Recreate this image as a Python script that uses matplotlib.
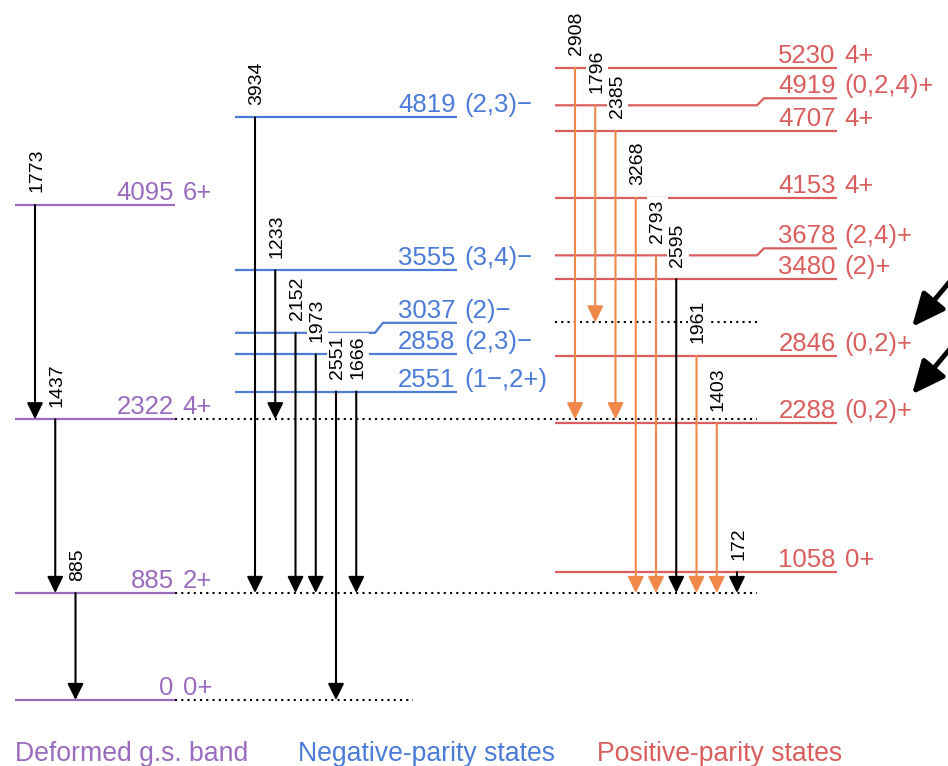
import matplotlib.pyplot as plt

plt.rcParams['font.family'] = ['Liberation Sans', 'DejaVu Sans']

# level energies (keV) and spin/parity labels
gs_levels = [0, 885, 2322, 4095]
gs_spins = ['0+', '2+', '4+', '6+']
neg_levels = [2551, 2858, 3037, 3555, 4819]
neg_spins = ['(1−,2+)', '(2,3)−', '(2)−', '(3,4)−', '(2,3)−']
pos_levels = [1058, 2288, 2846, 3480, 3678, 4153, 4707, 4919, 5230]
pos_spins = ['0+', '(0,2)+', '(0,2)+', '(2)+', '(2,4)+', '4+', '4+', '(0,2,4)+', '4+']

# transitions: initial level, final level, gamma energy
gs_from = [4095, 2322, 885]
gs_to = [2322, 885, 0]
gs_gamma = [1773, 1437, 885]

neg_from = [4819, 3555, 3037, 2858, 2551, 2551]
neg_to = [885, 2322, 885, 885, 0, 885]
neg_gamma = [3934, 1233, 2152, 1973, 2551, 1666]

pos_from = [5230, 4919, 4707, 4153, 3678, 3480, 2846, 2288, 1058]
pos_to = [2322, 3123, 2322, 885, 885, 885, 885, 885, 885]
pos_gamma = [2908, 1796, 2385, 3268, 2793, 2595, 1961, 1403, 172]
pos_black = [2595, 172]  # these are drawn black

# dotted guide levels
guide_levels = [0, 885, 2322, 3123]

#layout (pixels)
PX_PER_KEV = 0.1209
Y0 = 700
W, H = 948, 766

PURPLE = '#9a6cbf'
BLUE = '#4b7cd8'
RED = '#da5e5e'
ORANGE = '#f0884a'

FS_LEVEL = 18.5
FS_TITLE = 19.2
FS_GAMMA = 14


def e_px(ypix):
    """energy that sits at pixel row ypix"""
    return (Y0 - ypix) / PX_PER_KEV


def d_e(px):
    return px / PX_PER_KEV


fig = plt.figure(figsize=(W / 100, H / 100), dpi=100)
ax = fig.add_axes([0, 0, 1, 1])
ax.set_xlim(0, W)
ax.set_ylim(e_px(H), e_px(0))
ax.axis('off')


def draw_levels(levels, spins, color, x0, x1, kink=None, shifts=None):
    shifts = shifts or {}
    for e, s in zip(levels, spins):
        sh = d_e(shifts.get(e, 0))
        if sh:
            ax.plot([x0, kink[0], kink[1], x1], [e, e, e + sh, e + sh],
                    color=color, lw=1.6, zorder=2, solid_capstyle='butt')
        else:
            ax.plot([x0, x1], [e, e], color=color, lw=1.6, zorder=2,
                    solid_capstyle='butt')
        ax.annotate(str(e), xy=(x1, e + sh), xytext=(-1, 3.6),
                    textcoords='offset points', ha='right', va='baseline',
                    fontsize=FS_LEVEL, color=color)
        ax.annotate(s, xy=(x1, e + sh), xytext=(5.5, 3.6),
                    textcoords='offset points', ha='left', va='baseline',
                    fontsize=FS_LEVEL, color=color)


def draw_gammas(froms, tos, gammas, x_first, colors):
    for i, (a, b, g) in enumerate(zip(froms, tos, gammas)):
        x = x_first + i * 20.25
        c = colors[i]
        ax.annotate('', xy=(x, b), xytext=(x, a),
                    arrowprops=dict(arrowstyle='-|>,head_length=0.55,head_width=0.27',
                                    color=c, lw=1.5, mutation_scale=18,
                                    shrinkA=0, shrinkB=0), zorder=3)
        ax.annotate(str(g), xy=(x, a), xytext=(1.2, 9),
                    textcoords='offset points', rotation=90,
                    ha='center', va='bottom', fontsize=FS_GAMMA, color='black',
                    bbox=dict(fc='white', ec='none', pad=1.5), zorder=4)


#dotted guides
guide_x = {0: (175, 413), 885: (175, 757), 2322: (175, 757), 3123: (555, 760)}
for e in guide_levels:
    ax.plot(guide_x[e], [e, e], color='black', lw=1.5,
            linestyle=(0, (1, 2)), zorder=1)

#level columns
draw_levels(gs_levels, gs_spins, PURPLE, 15, 175)
draw_levels(neg_levels, neg_spins, BLUE, 235, 457, kink=(375, 383), shifts={3037: 10})
draw_levels(pos_levels, pos_spins, RED, 555, 837, kink=(757, 764),
            shifts={4919: 7, 3678: 7})

#transitions
draw_gammas(gs_from, gs_to, gs_gamma, 35, ['black'] * len(gs_gamma))
draw_gammas(neg_from, neg_to, neg_gamma, 255, ['black'] * len(neg_gamma))
draw_gammas(pos_from, pos_to, pos_gamma, 575,
            ['black' if g in pos_black else ORANGE for g in pos_gamma])

#pointer arrows at the two (0,2)+ states
for e in [2846, 2288]:
    tip = e + d_e(29)
    ax.annotate('', xy=(912, tip), xytext=(912 + 70, tip + d_e(84)),
                arrowprops=dict(arrowstyle='-|>,head_length=1.0,head_width=0.45',
                                color='black', lw=3.5, mutation_scale=20,
                                shrinkA=0, shrinkB=0),
                annotation_clip=False, zorder=5)

#column titles
ax.text(15, e_px(761), 'Deformed g.s. band', color=PURPLE, fontsize=FS_TITLE,
        ha='left', va='baseline')
ax.text(298, e_px(761), 'Negative-parity states', color=BLUE, fontsize=FS_TITLE,
        ha='left', va='baseline')
ax.text(597, e_px(761), 'Positive-parity states', color=RED, fontsize=FS_TITLE,
        ha='left', va='baseline')

fig.savefig('out.png', dpi=100)
